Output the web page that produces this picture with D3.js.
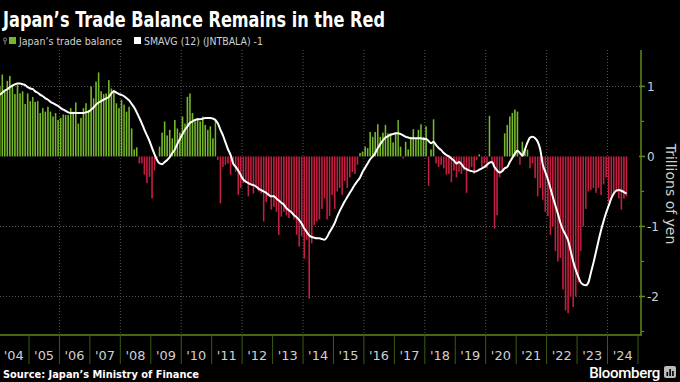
<!DOCTYPE html>
<html>
<head>
<meta charset="utf-8">
<script src="https://cdn.jsdelivr.net/npm/d3@7"></script>
<style>
  html, body { margin: 0; padding: 0; background: #000; }
  svg { display: block; }
</style>
</head>
<body>
<div id="chart"></div>
<script>
// ---------------- DATA ----------------
const title = "Japan\u2019s Trade Balance Remains in the Red";
const seriesNames = ["Japan\u2019s trade balance", "SMAVG (12) (JNTBALA) -1"];
const startMonth = "2004-01";
// Monthly trade balance, trillions of yen (Jan 2004 – Aug 2024)
const tradeBalance = [
  1.0, 1.17, 0.95, 1.08, 1.15, 1.02, 0.89, 1.02, 0.9, 0.93, 0.75, 0.9,
  0.79, 0.85, 0.78, 0.79, 0.62, 0.69, 0.64, 0.71, 0.64, 0.57, 0.62, 0.52,
  0.55, 0.6, 0.59, 0.59, 0.69, 0.64, 0.77, 0.47, 0.55, 0.69, 0.76, 0.66,
  1.0, 0.83, 1.07, 1.2, 0.93, 0.89, 0.9, 1.09, 0.97, 0.95, 0.76, 0.69,
  0.81, 0.74, 0.64, 0.71, 0.4, 0.1, 0.13, -0.1, -0.1, -0.26, -0.38, -0.29,
  -0.6, -0.2, -0.03, 0.14, 0.34, 0.5, 0.3, 0.38, 0.26, 0.52, 0.4, 0.34,
  0.57, 0.47, 0.85, 0.9, 0.62, 0.5, 0.55, 0.5, 0.57, 0.45, 0.38, 0.43,
  0.26, 0.52, -0.05, -0.67, -0.15, -0.12, -0.1, -0.26, -0.12, -0.22, -0.55, -0.45,
  -0.38, -0.34, -0.57, -0.41, -0.53, -0.45, -0.5, -0.53, -0.93, -0.65, -0.55, -0.76,
  -0.72, -0.79, -1.12, -0.86, -0.79, -0.84, -0.88, -0.81, -0.9, -1.12, -1.29, -1.14,
  -1.46, -1.19, -2.03, -1.24, -0.98, -0.93, -0.9, -0.75, -0.6, -0.9, -0.85, -0.55,
  -0.75, -0.5, -0.45, -0.55, -0.35, -0.45, -0.3, -0.22, -0.25, -0.12, 0.05, 0.07,
  0.14, 0.12, 0.35, 0.28, 0.35, 0.46, 0.28, 0.34, 0.45, 0.33, 0.33, 0.2,
  0.32, 0.52, 0.14, -0.03, 0.21, 0.1, 0.28, 0.39, 0.25, 0.38, 0.46, 0.28,
  0.43, -0.42, 0.1, 0.53, -0.1, -0.15, -0.12, -0.17, -0.26, -0.25, -0.37, -0.2,
  -0.3, -0.22, -0.25, -0.2, -0.52, -0.18, -0.15, -0.25, -0.05, 0.03, -0.15, -0.1,
  -0.17, 0.58, -0.1, -1.03, -0.84, -0.3, -0.2, 0.33, 0.45, 0.57, 0.62, 0.67,
  0.64, -0.12, 0.21, 0.1, 0.1, -0.17, -0.1, -0.31, -0.57, -0.45, -0.62, -0.79,
  -0.85, -1.12, -1.0, -1.35, -1.5, -1.45, -1.9, -2.2, -2.24, -2.0, -2.15, -2.0,
  -1.8, -1.35, -1.0, -0.75, -0.5, -0.48, -0.45, -0.52, -0.45, -0.55, -0.4, -0.3,
  -0.65, -0.62, -0.52, -0.5, -0.6, -0.76, -0.6, -0.57
];
// 12-month moving average
const smavg = [
  0.88, 0.91, 0.94, 0.96, 0.99, 1.01, 1.03, 1.04, 1.04, 1.03, 1.02, 0.99,
  0.97, 0.96, 0.93, 0.91, 0.88, 0.86, 0.83, 0.81, 0.78, 0.76, 0.74, 0.72,
  0.69, 0.67, 0.65, 0.63, 0.62, 0.62, 0.62, 0.62, 0.62, 0.62, 0.63, 0.64,
  0.67, 0.7, 0.74, 0.77, 0.79, 0.81, 0.83, 0.85, 0.9, 0.93, 0.91, 0.89,
  0.88, 0.86, 0.83, 0.8, 0.75, 0.7, 0.63, 0.55, 0.47, 0.38, 0.3, 0.22,
  0.12, 0.03, -0.05, -0.1, -0.11, -0.08, -0.05, -0.01, 0.05, 0.1, 0.18, 0.25,
  0.32, 0.38, 0.43, 0.48, 0.5, 0.52, 0.53, 0.53, 0.54, 0.55, 0.55, 0.55,
  0.54, 0.52, 0.47, 0.38, 0.3, 0.2, 0.1, 0.02, -0.1, -0.15, -0.2, -0.27,
  -0.33, -0.36, -0.38, -0.4, -0.41, -0.43, -0.46, -0.48, -0.5, -0.52, -0.55, -0.57,
  -0.57, -0.6, -0.63, -0.66, -0.69, -0.74, -0.77, -0.8, -0.84, -0.87, -0.91, -0.96,
  -1.03, -1.08, -1.13, -1.15, -1.16, -1.17, -1.17, -1.18, -1.19, -1.15, -1.08, -1.02,
  -0.95, -0.86, -0.78, -0.71, -0.64, -0.58, -0.52, -0.46, -0.4, -0.35, -0.3, -0.22,
  -0.16, -0.1, -0.04, 0.0, 0.05, 0.12, 0.18, 0.23, 0.27, 0.29, 0.31, 0.32,
  0.33, 0.33, 0.32, 0.3, 0.28, 0.27, 0.26, 0.26, 0.26, 0.26, 0.26, 0.25,
  0.25, 0.22, 0.19, 0.21, 0.16, 0.12, 0.09, 0.05, 0.02, 0.0, -0.03, -0.06,
  -0.1, -0.08, -0.11, -0.16, -0.18, -0.2, -0.21, -0.22, -0.21, -0.19, -0.17, -0.15,
  -0.12, -0.09, -0.08, -0.15, -0.2, -0.23, -0.21, -0.17, -0.15, -0.08, -0.02, 0.04,
  0.08, 0.05, 0.01, 0.1, 0.2, 0.27, 0.28, 0.26, 0.21, 0.1, -0.12, -0.22,
  -0.33, -0.45, -0.58, -0.7, -0.82, -0.95, -1.05, -1.12, -1.2, -1.35, -1.5, -1.62,
  -1.72, -1.8, -1.83, -1.84, -1.8, -1.66, -1.52, -1.36, -1.2, -1.05, -0.92, -0.8,
  -0.7, -0.6, -0.53, -0.49, -0.48, -0.49, -0.51, -0.53
];
const yearLabels = ["'04","'05","'06","'07","'08","'09","'10","'11","'12","'13","'14",
                    "'15","'16","'17","'18","'19","'20","'21","'22","'23","'24"];
const gridYears = [2006, 2008, 2010, 2012, 2014, 2016, 2018, 2020, 2022, 2024];
const yTicks = [1, 0, -1, -2];
const yMinorTicks = [0.5, -0.5, -1.5, -2.5];
const yGrid = [1, -1, -2];
const yTitle = "Trillions of yen";
const source = "Source: Japan\u2019s Ministry of Finance";
const brand = "Bloomberg";

// ---------------- CHART ----------------
const W = 680, H = 382;
const plot = { left: -1.5, right: 638, top: 50, bottom: 335, axisX: 641 };
const GREEN = "#76b82a", RED = "#c41f41", AXIS = "#5f8a1c", TXT = "#d0d0d0";
const FONT = "'DejaVu Sans', sans-serif";

const svg = d3.select("#chart").append("svg").attr("width", W).attr("height", H)
  .style("background", "#000");

const parse = d3.timeParse("%Y-%m");
const t0 = parse(startMonth);
const months = tradeBalance.map((_, i) => d3.timeMonth.offset(t0, i));

const x = d3.scaleTime()
  .domain([new Date(2004, 0, 1), new Date(2025, 0, 1)])
  .range([plot.left, plot.right]);
const y = d3.scaleLinear().domain([-2.55, 1.52]).range([plot.bottom, plot.top]);

// gridlines
const grid = svg.append("g");
grid.selectAll("line.vg").data(gridYears).join("line")
  .attr("x1", d => x(new Date(d, 0, 1))).attr("x2", d => x(new Date(d, 0, 1)))
  .attr("y1", plot.top).attr("y2", plot.bottom)
  .attr("stroke", "#555").attr("stroke-width", 1).attr("stroke-dasharray", "1,2");
grid.selectAll("line.hg").data(yGrid).join("line")
  .attr("x1", 0).attr("x2", plot.axisX)
  .attr("y1", d => Math.round(y(d)) + 0.5).attr("y2", d => Math.round(y(d)) + 0.5)
  .attr("stroke", "#555").attr("stroke-width", 1).attr("stroke-dasharray", "1,2");

// bars
const bars = svg.append("g");
bars.selectAll("rect").data(tradeBalance).join("rect")
  .attr("x", (d, i) => x(months[i]) + 0.45)
  .attr("width", (d, i) => (x(d3.timeMonth.offset(months[i], 1)) - x(months[i])) * 0.62)
  .attr("y", d => y(Math.max(0, d)))
  .attr("height", d => Math.abs(y(d) - y(0)))
  .attr("fill", d => d >= 0 ? GREEN : RED);

// moving average line
const mid = i => x(new Date(months[i].getTime() + (d3.timeMonth.offset(months[i], 1) - months[i]) / 2));
svg.append("path").datum(smavg)
  .attr("d", d3.line().x((d, i) => mid(i)).y(d => y(d)).curve(d3.curveMonotoneX))
  .attr("fill", "none").attr("stroke", "#fff").attr("stroke-width", 2)
  .attr("stroke-linejoin", "round");

// right axis
const yAxisG = svg.append("g").attr("transform", `translate(${plot.axisX},0)`);
yAxisG.append("line").attr("x1", 0).attr("x2", 0).attr("y1", plot.top).attr("y2", plot.bottom)
  .attr("stroke", AXIS).attr("stroke-width", 1.5);
yAxisG.selectAll("line.mj").data(yTicks).join("line")
  .attr("x1", -2).attr("x2", 4).attr("y1", d => y(d)).attr("y2", d => y(d))
  .attr("stroke", AXIS).attr("stroke-width", 1.5);
yAxisG.selectAll("line.mn").data(yMinorTicks).join("line")
  .attr("x1", 0).attr("x2", 3).attr("y1", d => y(d)).attr("y2", d => y(d))
  .attr("stroke", AXIS).attr("stroke-width", 1.2);
yAxisG.selectAll("text").data(yTicks).join("text")
  .attr("x", 6).attr("y", d => y(d)).attr("dy", "0.36em")
  .attr("fill", TXT).attr("font-family", FONT)
  .attr("font-size", 12)
  .text(d => d < 0 ? "-" + Math.abs(d) : d);
svg.append("text")
  .attr("transform", `translate(666,194) rotate(90)`)
  .attr("text-anchor", "middle").attr("fill", TXT)
  .attr("font-family", FONT).attr("font-size", 14)
  .text(yTitle);

// bottom axis
const xAxisG = svg.append("g");
xAxisG.append("line").attr("x1", 0).attr("x2", plot.axisX + 1)
  .attr("y1", plot.bottom).attr("y2", plot.bottom)
  .attr("stroke", AXIS).attr("stroke-width", 1.5);
const sepYears = d3.range(2005, 2026);
xAxisG.selectAll("line.sep").data(sepYears).join("line")
  .attr("x1", d => x(new Date(d, 0, 1))).attr("x2", d => x(new Date(d, 0, 1)))
  .attr("y1", plot.bottom).attr("y2", 364)
  .attr("stroke", "#3d5a12").attr("stroke-width", 1);
xAxisG.selectAll("text").data(yearLabels).join("text")
  .attr("x", (d, i) => x(new Date(2004 + i, 6, 1)))
  .attr("y", 360).attr("text-anchor", "middle")
  .attr("fill", TXT).attr("font-family", FONT)
  .attr("font-size", 12).attr("textLength", 20).attr("lengthAdjust", "spacingAndGlyphs")
  .text(d => d);

// title
svg.append("text").attr("x", 3).attr("y", 27)
  .attr("fill", "#fff").attr("font-family", FONT)
  .attr("font-weight", "bold").attr("font-size", 21)
  .attr("textLength", 382).attr("lengthAdjust", "spacingAndGlyphs").text(title);

// legend
const lg = svg.append("g").attr("font-family", FONT)
  .attr("font-size", 10.5).attr("fill", TXT);
lg.append("circle").attr("cx", 5).attr("cy", 39.5).attr("r", 1.6).attr("fill", "none")
  .attr("stroke", "#888").attr("stroke-width", 1);
lg.append("line").attr("x1", 5).attr("x2", 5).attr("y1", 41).attr("y2", 44.5)
  .attr("stroke", "#888").attr("stroke-width", 1);
lg.append("rect").attr("x", 9).attr("y", 37).attr("width", 7).attr("height", 7).attr("fill", GREEN);
lg.append("text").attr("x", 19).attr("y", 44.5)
  .attr("textLength", 103).attr("lengthAdjust", "spacingAndGlyphs").text(seriesNames[0]);
lg.append("rect").attr("x", 134).attr("y", 37).attr("width", 7).attr("height", 7).attr("fill", "#fff");
lg.append("text").attr("x", 144).attr("y", 44.5)
  .attr("textLength", 119).attr("lengthAdjust", "spacingAndGlyphs").text(seriesNames[1]);

// footer
svg.append("text").attr("x", 3).attr("y", 378)
  .attr("fill", "#fff").attr("font-family", FONT)
  .attr("font-weight", "bold").attr("font-size", 10)
  .attr("textLength", 196).attr("lengthAdjust", "spacingAndGlyphs").text(source);
svg.append("text").attr("x", 660).attr("y", 378).attr("text-anchor", "end")
  .attr("fill", "#fff").attr("font-family", "Roboto, 'DejaVu Sans', sans-serif")
  .attr("font-weight", "500").attr("font-size", 15).attr("letter-spacing", -0.3).text(brand);
const ic = svg.append("g").attr("transform", "translate(664,366)");
ic.append("rect").attr("width", 12).attr("height", 12).attr("rx", 2).attr("fill", "#bbb");
ic.selectAll("rect.b").data([4, 7, 5]).join("rect")
  .attr("x", (d, i) => 2.5 + i * 2.8).attr("y", d => 10 - d).attr("width", 1.6).attr("height", d => d)
  .attr("fill", "#000");
</script>
</body>
</html>
